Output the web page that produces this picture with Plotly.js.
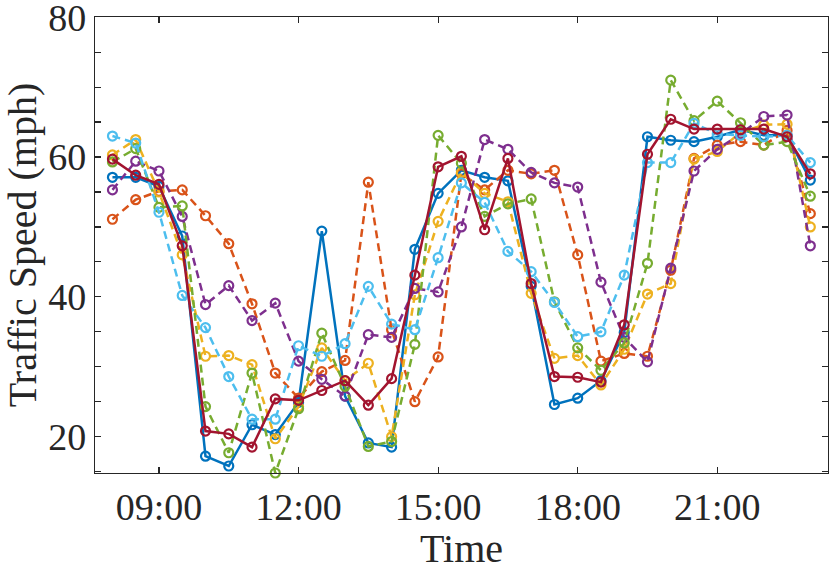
<!DOCTYPE html>
<html>
<head>
<meta charset="utf-8">
<script src="https://cdn.plot.ly/plotly-3.0.1.min.js"></script>
<style>html,body{margin:0;padding:0;background:#fff;}#chart{width:830px;height:571px;}</style>
</head>
<body>
<div id="chart"></div>
<script>
// Time of day in hours, every 30 minutes from 08:00 to 23:00
var hours = [8, 8.5, 9, 9.5, 10, 10.5, 11, 11.5, 12, 12.5, 13, 13.5, 14, 14.5, 15, 15.5,
             16, 16.5, 17, 17.5, 18, 18.5, 19, 19.5, 20, 20.5, 21, 21.5, 22, 22.5, 23];

var xTickVals = [9, 12, 15, 18, 21];
var xTickText = ['09:00', '12:00', '15:00', '18:00', '21:00'];
var yTickVals = [15, 20, 25, 30, 35, 40, 45, 50, 55, 60, 65, 70, 75, 80];
var yTickText = ['', '20', '', '', '', '40', '', '', '', '60', '', '', '', '80'];

var seriesBlue = [57.1, 57.1, 55.8, 48.7, 17.2, 15.8, 21.7, 20.3, 24.9, 49.4, 25.8, 19.1, 18.5, 46.8, 54.8, 58.1,
                  57.1, 56.6, 41.5, 24.6, 25.5, 28.0, 34.9, 62.9, 62.4, 62.2, 62.9, 63.9, 63.1, 63.1, 56.7];
var seriesOrange = [51.1, 53.9, 55.1, 55.3, 51.6, 47.6, 39.0, 29.1, 25.5, 29.3, 30.9, 56.4, 35.3, 25.0, 31.4, 57.6,
                    55.3, 58.1, 57.6, 58.1, 46.0, 30.8, 31.9, 31.5, 43.8, 59.8, 61.7, 62.2, 61.7, 63.8, 51.9];
var seriesYellow = [60.3, 62.5, 55.0, 46.0, 31.5, 31.6, 30.3, 19.7, 24.3, 32.7, 28.0, 30.5, 20.0, 40.3, 50.8, 57.8,
                    54.8, 53.6, 40.5, 31.2, 31.6, 27.4, 32.5, 40.4, 41.9, 59.7, 60.8, 63.5, 64.6, 64.7, 50.0];
var seriesPurple = [55.3, 59.4, 58.0, 51.5, 38.9, 41.6, 36.6, 39.1, 30.8, 28.2, 25.8, 34.6, 34.2, 41.2, 40.7, 50.0,
                    62.5, 61.1, 57.8, 56.3, 55.7, 42.1, 34.2, 30.7, 44.1, 58.0, 61.1, 63.3, 65.8, 66.0, 47.3];
var seriesGreen = [59.3, 61.2, 52.8, 53.0, 24.3, 17.7, 29.1, 14.8, 24.0, 34.8, 27.2, 18.6, 19.3, 33.2, 63.1, 59.1,
                   51.5, 53.3, 54.0, 39.3, 32.7, 29.5, 33.4, 44.8, 71.0, 65.2, 68.0, 64.9, 61.7, 62.2, 54.4];
var seriesLightBlue = [63.0, 62.0, 52.1, 40.2, 35.6, 28.6, 22.5, 22.5, 33.0, 31.5, 33.3, 41.5, 36.1, 35.3, 45.6, 56.3,
                       53.5, 46.5, 43.6, 39.2, 34.3, 35.0, 43.1, 59.2, 59.2, 64.8, 63.3, 63.1, 62.9, 63.1, 59.2];
var seriesDarkRed = [59.7, 57.4, 56.1, 47.3, 20.8, 20.4, 18.5, 25.4, 25.2, 26.6, 28.0, 24.5, 28.3, 43.1, 58.6, 60.1,
                     49.6, 59.8, 41.9, 28.6, 28.5, 27.8, 36.0, 60.4, 65.4, 64.0, 64.0, 63.9, 64.0, 62.9, 57.6];

var seriesList = [
  {y: seriesBlue, color: '#0072BD', dash: 'solid'},
  {y: seriesOrange, color: '#D95319', dash: '8px,5px'},
  {y: seriesYellow, color: '#EDB120', dash: '8px,5px'},
  {y: seriesPurple, color: '#7E2F8E', dash: '8px,5px'},
  {y: seriesGreen, color: '#77AC30', dash: '8px,5px'},
  {y: seriesLightBlue, color: '#4DBEEE', dash: '8px,5px'},
  {y: seriesDarkRed, color: '#A2142F', dash: 'solid'}
];

var traces = seriesList.map(function (s) {
  return {
    x: hours,
    y: s.y,
    type: 'scatter',
    mode: 'lines+markers',
    cliponaxis: false,
    line: {color: s.color, width: 2.5, dash: s.dash},
    marker: {symbol: 'circle-open', size: 9, color: s.color, line: {width: 2.2, color: s.color}},
    showlegend: false
  };
});

var serif = 'Liberation Serif, Times New Roman, serif';
var axisCommon = {
  showline: true,
  linecolor: '#262626',
  linewidth: 1.2,
  mirror: 'allticks',
  ticks: 'inside',
  ticklen: 6,
  tickwidth: 1.2,
  tickcolor: '#262626',
  showgrid: false,
  zeroline: false,
  ticklabeloverflow: 'allow',
  tickfont: {family: serif, size: 38, color: '#262626'}
};

var layout = {
  width: 830,
  height: 571,
  margin: {l: 95, r: 2, t: 16.5, b: 97.5},
  paper_bgcolor: '#ffffff',
  plot_bgcolor: '#ffffff',
  xaxis: Object.assign({}, axisCommon, {
    range: [7.625, 23.38],
    tickmode: 'array',
    tickvals: xTickVals,
    ticktext: xTickText,
    title: {text: 'Time', font: {family: serif, size: 40, color: '#262626'}, standoff: 9}
  }),
  yaxis: Object.assign({}, axisCommon, {
    range: [14.8, 80.03],
    tickmode: 'array',
    tickvals: yTickVals,
    ticktext: yTickText,
    title: {text: 'Traffic Speed (mph)', font: {family: serif, size: 40, color: '#262626'}, standoff: 8}
  })
};

Plotly.newPlot('chart', traces, layout, {displayModeBar: false, staticPlot: true});
</script>
</body>
</html>
